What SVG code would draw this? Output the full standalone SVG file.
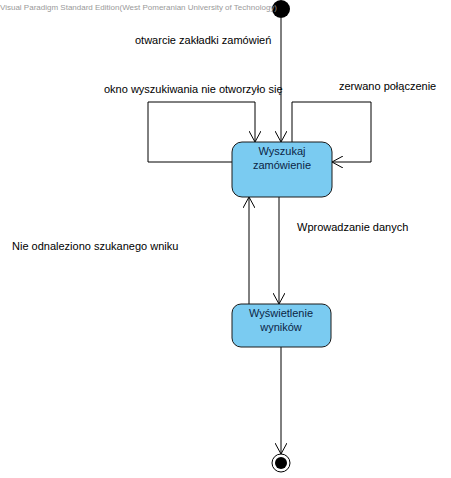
<svg xmlns="http://www.w3.org/2000/svg" width="451" height="478" viewBox="0 0 451 478">
<defs>
<style>
.lbl{font-family:"Liberation Sans",Arial,sans-serif;font-size:11px;fill:#000}
.ntxt{font-family:"Liberation Sans",Arial,sans-serif;font-size:11px;fill:#0b2545;text-anchor:middle}
.state{fill:#7acbf1;stroke:#1a1a1a;stroke-width:1}
.edge{fill:none;stroke:#000;stroke-width:1}
.wm{font-family:"Liberation Sans",Arial,sans-serif;font-size:8px;fill:#9a9a9a}
</style>
<marker id="arr" viewBox="0 0 12 12" refX="11" refY="6" markerWidth="12" markerHeight="12" markerUnits="userSpaceOnUse" orient="auto">
<path d="M0,0 L11,6 L0,12" fill="none" stroke="#000" stroke-width="1"/>
</marker>
</defs>
<rect width="451" height="478" fill="#fff"/>
<g id="connectors">
<path class="edge" d="M281,18 L281,142" marker-end="url(#arr)"/>
<path class="edge" d="M232,162 L148,162 L148,102 L255,102 L255,142" marker-end="url(#arr)"/>
<path class="edge" d="M292,142 L292,102 L371,102 L371,162 L332,162" marker-end="url(#arr)"/>
<path class="edge" d="M279,197 L279,304" marker-end="url(#arr)"/>
<path class="edge" d="M249,304 L249,197" marker-end="url(#arr)"/>
<path class="edge" d="M281,347 L281,454" marker-end="url(#arr)"/>
<text class="lbl" x="135" y="44">otwarcie zakładki zamówień</text>
<text class="lbl" x="104" y="93">okno wyszukiwania nie otworzyło się</text>
<text class="lbl" x="339" y="90">zerwano połączenie</text>
<text class="lbl" x="297" y="231">Wprowadzanie danych</text>
<text class="lbl" x="12" y="250">Nie odnaleziono szukanego wniku</text>
</g>
<g id="start">
<circle cx="281" cy="9" r="9" fill="#000"/>
</g>
<g id="wyszukaj">
<rect class="state" x="232" y="142" width="100" height="55" rx="10" ry="10"/>
<text class="ntxt" x="282" y="155">Wyszukaj</text>
<text class="ntxt" x="282" y="169">zamówienie</text>
</g>
<g id="wyswietlenie">
<rect class="state" x="232" y="304" width="99" height="43" rx="9" ry="9"/>
<text class="ntxt" x="281" y="317">Wyświetlenie</text>
<text class="ntxt" x="281" y="331">wyników</text>
</g>
<g id="end">
<circle cx="281" cy="463" r="9" fill="#fff" stroke="#000" stroke-width="1"/>
<circle cx="281" cy="463" r="6" fill="#000"/>
</g>
<text class="wm" x="0" y="10" textLength="277" lengthAdjust="spacingAndGlyphs">Visual Paradigm Standard Edition(West Pomeranian University of Technology)</text>
</svg>
